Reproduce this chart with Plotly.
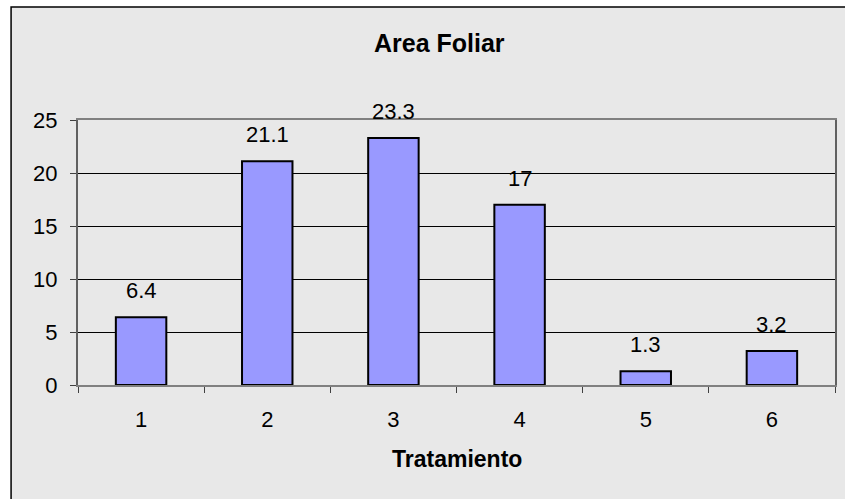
import plotly.graph_objects as go

categories = ["1", "2", "3", "4", "5", "6"]
values = [6.4, 21.1, 23.3, 17, 1.3, 3.2]
labels = ["6.4", "21.1", "23.3", "17", "1.3", "3.2"]
y_ticks = [0, 5, 10, 15, 20, 25]

FONT = "Liberation Sans, Arial, sans-serif"

fig = go.Figure()
fig.add_trace(go.Bar(
    x=categories, y=values,
    marker=dict(color="#9999FF", line=dict(color="#000000", width=2)),
    hoverinfo="skip",
))

for i, (v, t) in enumerate(zip(values, labels)):
    fig.add_annotation(x=i, y=v, text=t, showarrow=False, yanchor="bottom",
                       yshift=12, font=dict(family=FONT, size=22, color="#000"))

# chart area background and border
fig.add_shape(type="rect", xref="paper", yref="paper",
              x0=-0.0884, x1=1.2, y0=-0.6, y1=1.4264,
              fillcolor="#E8E8E8", line=dict(color="#000000", width=1.5),
              layer="below")

fig.add_annotation(x=0.5, y=-0.28, xref="paper", yref="paper", text="<b>Tratamiento</b>",
                   showarrow=False, yanchor="middle",
                   font=dict(family=FONT, size=23, color="#000"))
fig.add_annotation(x=0.477, y=1.29, xref="paper", yref="paper", text="<b>Area Foliar</b>",
                   showarrow=False, yanchor="middle",
                   font=dict(family=FONT, size=25, color="#000"))

fig.update_layout(
    width=845, height=499,
    margin=dict(l=78, r=8, t=120, b=114),
    paper_bgcolor="#FFFFFF", plot_bgcolor="#FFFFFF",
    showlegend=False, bargap=0.6,
    font=dict(family=FONT, size=22, color="#000"),
)
fig.update_xaxes(type="category", range=[-0.5, 5.5], showline=True, linecolor="#808080",
                 linewidth=2, mirror=True, ticks="outside", tickson="boundaries", ticklen=6,
                 tickcolor="#404040", showgrid=False, ticklabelstandoff=14,
                 tickfont=dict(family=FONT, size=22))
fig.update_yaxes(range=[0, 25], tickvals=y_ticks, showline=True, linecolor="#606060",
                 linewidth=2, mirror=True, ticks="outside", ticklen=6, tickcolor="#404040",
                 showgrid=True, gridcolor="#000000", gridwidth=1, zeroline=False,
                 ticklabelstandoff=8, tickfont=dict(family=FONT, size=22))

fig.write_html("out.html")
